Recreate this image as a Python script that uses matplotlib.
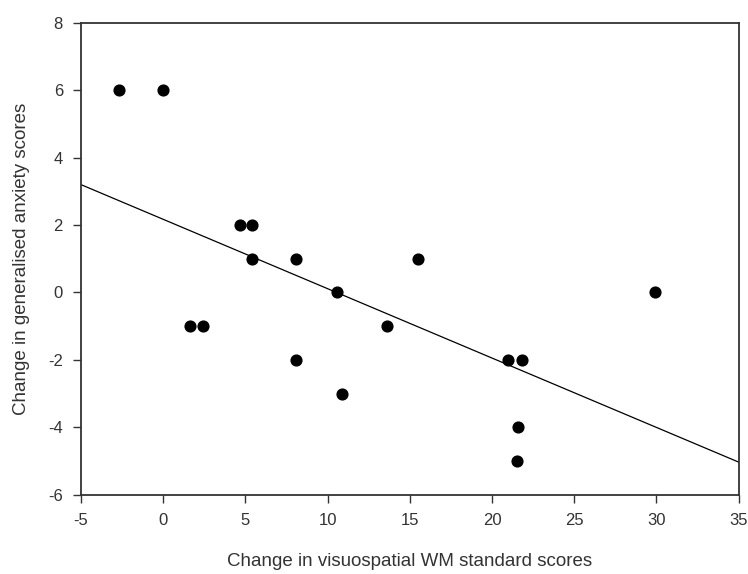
import numpy as np
import matplotlib.pyplot as plt

plt.rcParams['font.family'] = ['Liberation Sans', 'DejaVu Sans']
plt.rcParams['axes.unicode_minus'] = False

wm_change = [-2.7, 0.0, 4.7, 5.4, 5.4, 8.1, 10.6, 15.5, 29.9, 13.6, 1.6, 2.4,
             8.1, 21.0, 21.8, 10.9, 21.6, 21.5]
anxiety_change = [6, 6, 2, 2, 1, 1, 0, 1, 0, -1, -1, -1,
                  -2, -2, -2, -3, -4, -5]

x_ticks = [-5, 0, 5, 10, 15, 20, 25, 30, 35]
y_ticks = [-6, -4, -2, 0, 2, 4, 6, 8]

fig = plt.figure(figsize=(7.48, 5.74), dpi=100)
ax = fig.add_axes([0.1083, 0.1381, 0.8792, 0.8224])

ax.scatter(wm_change, anxiety_change, s=60, color='black', zorder=3)

# least squares fit line across the full axis
slope, intercept = np.polyfit(wm_change, anxiety_change, 1)
xl = np.array([-5, 35])
ax.plot(xl, slope * xl + intercept, color='black', lw=0.9)

ax.set_xlim(-5, 35)
ax.set_ylim(-6, 8)
ax.set_xticks(x_ticks)
ax.set_yticks(y_ticks)
ax.tick_params(direction='out', length=6, width=1, colors='#333333',
               labelsize=12, pad=7)
ax.tick_params(top=False, right=False)
for s in ax.spines.values():
    s.set_linewidth(1.3)
    s.set_color('#333333')

ax.set_xlabel('Change in visuospatial WM standard scores', fontsize=13.5,
              color='#333333', labelpad=18)
ax.set_ylabel('Change in generalised anxiety scores', fontsize=13.5,
              color='#333333', labelpad=13)

fig.savefig('out.png', dpi=100)
